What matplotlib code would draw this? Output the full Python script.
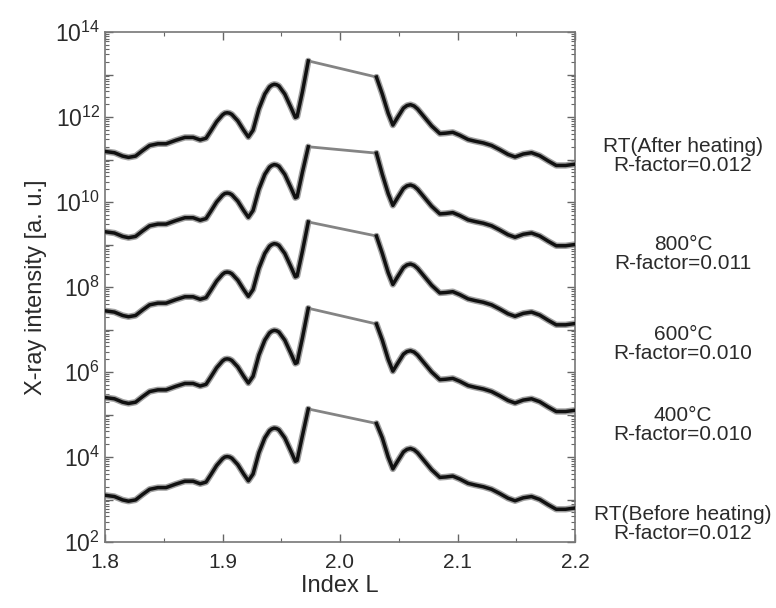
import numpy as np
import matplotlib
matplotlib.use("Agg")
import matplotlib.pyplot as plt
from matplotlib.ticker import LogLocator, FuncFormatter, MultipleLocator, NullFormatter

plt.rcParams["font.family"] = ["Liberation Sans", "DejaVu Sans"]
plt.rcParams["mathtext.fontset"] = "custom"
plt.rcParams["mathtext.rm"] = "Liberation Sans"
plt.rcParams["mathtext.default"] = "regular"

# Base profile (log10 intensity) of the bottom curve
L_low = [1.800, 1.808, 1.815, 1.820, 1.826, 1.832, 1.838, 1.845, 1.852, 1.860,
         1.868, 1.875, 1.881, 1.886, 1.890, 1.895, 1.900, 1.902, 1.904, 1.906,
         1.908, 1.913, 1.918, 1.922, 1.926, 1.931, 1.936, 1.940, 1.942, 1.944,
         1.946, 1.948, 1.953, 1.958, 1.962, 1.9635, 1.968, 1.973]
log_low = [3.10, 3.07, 2.99, 2.96, 2.99, 3.12, 3.24, 3.28, 3.28, 3.36,
           3.43, 3.43, 3.37, 3.41, 3.58, 3.80, 3.96, 4.00, 4.01, 4.00,
           3.97, 3.82, 3.60, 3.44, 3.60, 4.10, 4.45, 4.62, 4.66, 4.68,
           4.67, 4.64, 4.45, 4.15, 3.90, 3.92, 4.50, 5.13]
L_high = [2.031, 2.036, 2.041, 2.045, 2.049, 2.054, 2.057, 2.060, 2.063, 2.066,
          2.072, 2.078, 2.085, 2.090, 2.096, 2.102, 2.109, 2.115, 2.122, 2.129,
          2.136, 2.143, 2.149, 2.156, 2.163, 2.170, 2.177, 2.184, 2.192, 2.200]
log_high = [4.79, 4.45, 4.00, 3.72, 3.90, 4.12, 4.18, 4.20, 4.17, 4.10,
            3.90, 3.70, 3.52, 3.53, 3.55, 3.48, 3.38, 3.34, 3.30, 3.24,
            3.14, 3.03, 2.97, 3.04, 3.07, 3.00, 2.88, 2.77, 2.77, 2.80]

# per-curve decade offsets and the levels at both edges of the gap
labels = ["RT(Before heating)\nR-factor=0.012",
          "400°C\nR-factor=0.010",
          "600°C\nR-factor=0.010",
          "800°C\nR-factor=0.011",
          "RT(After heating)\nR-factor=0.012"]
offsets = [0.0, 2.30, 4.34, 6.20, 8.09]
gap_left = [5.13, 7.50, 9.53, 11.30, 13.32]
gap_right = [4.79, 7.13, 9.20, 11.15, 12.94]
label_y = [524, 425, 344, 254, 156]  # pixel rows of the text blocks

W, H = 776, 608
fig = plt.figure(figsize=(W / 100, H / 100), dpi=100)
ax = fig.add_axes([105 / W, 1 - 542 / H, 470 / W, 510 / H])

for off, gl, gr in zip(offsets, gap_left, gap_right):
    yl = np.array(log_low) + off
    yh = np.array(log_high) + off
    yl[-1] = gl
    yh[0] = gr
    yl = 10 ** yl
    yh = 10 ** yh
    # measured points (grey band)
    for xs, ys in ((L_low, yl), (L_high, yh)):
        ax.plot(xs, ys, color="#a0a0a0", lw=4.6, solid_capstyle="round",
                solid_joinstyle="round", zorder=2)
    # straight grey link across the unmeasured gap
    ax.plot([L_low[-1], L_high[0]], [yl[-1], yh[0]], color="#848484",
            lw=2, zorder=2)
    # fitted curve
    for xs, ys in ((L_low, yl), (L_high, yh)):
        ax.plot(xs, ys, color="#111111", lw=2.5, solid_joinstyle="round",
                zorder=3)

ax.set_yscale("log")
ax.set_xlim(1.8, 2.2)
ax.set_ylim(1e2, 1e14)

ax.xaxis.set_major_locator(MultipleLocator(0.1))
ax.xaxis.set_minor_locator(MultipleLocator(0.05))
ax.xaxis.set_major_formatter(FuncFormatter(lambda v, p: f"{v:.1f}"))

ax.yaxis.set_major_locator(LogLocator(base=10, numticks=20))
ax.yaxis.set_minor_locator(LogLocator(base=10, subs=np.arange(2, 10), numticks=20))
ax.yaxis.set_minor_formatter(NullFormatter())


def even_decades(v, p):
    e = int(round(np.log10(v)))
    return f"$10^{{{e}}}$" if e % 2 == 0 else ""


ax.yaxis.set_major_formatter(FuncFormatter(even_decades))

ax.tick_params(which="both", direction="in", top=True, right=True,
               colors="#666666", labelcolor="#2a2a2a", labelsize=15)
ax.tick_params(axis="y", which="major", labelsize=16.5)
ax.tick_params(which="major", length=6, width=1)
ax.tick_params(which="minor", length=3, width=0.8)
ax.tick_params(axis="x", which="major", pad=8)
for s in ax.spines.values():
    s.set_color("#777777")
    s.set_linewidth(1.2)

ax.set_xlabel("Index L", fontsize=17, color="#2a2a2a", labelpad=2)
ax.set_ylabel("X-ray intensity [a. u.]", fontsize=17, color="#2a2a2a", labelpad=6)

for txt, py in zip(labels, label_y):
    fig.text(683 / W, 1 - py / H, txt, ha="center", va="center",
             fontsize=15, color="#2a2a2a", linespacing=1.05)

fig.savefig("out.png", dpi=100)
